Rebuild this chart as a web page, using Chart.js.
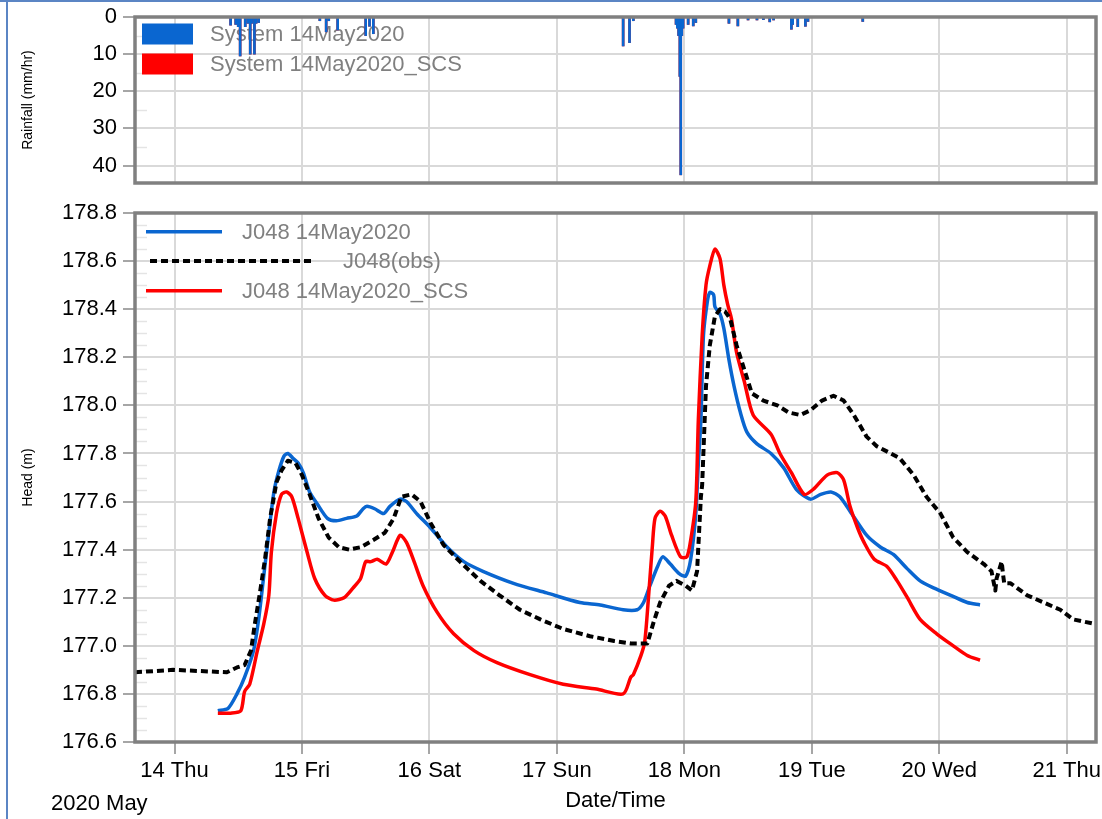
<!DOCTYPE html>
<html>
<head>
<meta charset="utf-8">
<title>J048 head and rainfall</title>
<script src="https://cdn.jsdelivr.net/npm/chart.js@4.4.1/dist/chart.umd.min.js"></script>
<style>
  html, body { margin: 0; padding: 0; background: #fff; }
  #page { position: relative; width: 1102px; height: 819px; overflow: hidden; }
  #rainBox { position: absolute; left: 0; top: 0; width: 1102px; height: 195px; }
  #headBox { position: absolute; left: 0; top: 195px; width: 1102px; height: 624px; }
  .edgeTop { position: absolute; left: 0; top: 0; width: 1102px; height: 2px; background: #5b85c4; }
  .edgeLeft { position: absolute; left: 6px; top: 0; width: 2px; height: 819px; background: #5b85c4; }
</style>
</head>
<body>
<div id="page">
  <div id="rainBox"><canvas id="rainChart" width="1102" height="195"></canvas></div>
  <div id="headBox"><canvas id="headChart" width="1102" height="624"></canvas></div>
  <div class="edgeTop"></div>
  <div class="edgeLeft"></div>
</div>
<script>
// axis ticks (x values are day of May 2020)
const dayTicks = [14, 15, 16, 17, 18, 19, 20, 21];
const dayLabels = ["14 Thu", "15 Fri", "16 Sat", "17 Sun", "18 Mon", "19 Tue", "20 Wed", "21 Thu"];
const headTicks = [176.6, 176.8, 177.0, 177.2, 177.4, 177.6, 177.8, 178.0, 178.2, 178.4, 178.6, 178.8];
const rainTicks = [0, 10, 20, 30, 40];

// rainfall intensity (mm/hr)
const rainDays = [
  14.44, 14.48, 14.50, 14.515, 14.555, 14.575, 14.594, 14.605, 14.627, 14.64, 14.66,
  15.14, 15.19, 15.21, 15.28, 15.50, 15.53, 15.56,
  17.52, 17.57, 17.60,
  17.935, 17.945, 17.955, 17.965, 17.972, 17.98, 17.99, 18.03, 18.07, 18.09,
  18.35, 18.42, 18.50, 18.57, 18.62, 18.67, 18.70,
  18.84, 18.85, 18.89, 18.95, 18.97, 19.40
];
const rainRate = [
  2.2, 2.0, 2.6, 10.5, 2.6, 1.7, 10.0, 1.7, 10.0, 1.7, 1.5,
  1.0, 4.0, 1.0, 3.5, 5.0, 2.5, 4.5,
  7.8, 6.9, 1.0,
  2.0, 3.0, 5.0, 16.0, 42.5, 5.0, 3.0, 2.0, 2.4, 1.5,
  1.7, 2.4, 0.8, 0.8, 0.7, 1.3, 0.8,
  3.3, 2.0, 2.6, 2.5, 1.2, 1.2
];
const rainRateSCS = rainRate;

// J048 14May2020
const simDays = [
  14.34, 14.42, 14.49, 14.55, 14.62, 14.66, 14.70, 14.74, 14.78, 14.82,
  14.86, 14.89, 14.93, 14.97, 15.01, 15.06, 15.12, 15.20, 15.27, 15.35,
  15.43, 15.48, 15.51, 15.57, 15.64, 15.69, 15.77, 15.82, 15.90, 16.01,
  16.14, 16.27, 16.42, 16.66, 16.92, 17.18, 17.34, 17.52, 17.63, 17.68,
  17.73, 17.79, 17.83, 17.89, 17.96, 18.01, 18.05, 18.09, 18.11, 18.13,
  18.15, 18.18, 18.20, 18.23, 18.24, 18.28, 18.31, 18.35, 18.39, 18.44,
  18.49, 18.57, 18.68, 18.78, 18.88, 18.99, 19.07, 19.15, 19.22, 19.30,
  19.43, 19.54, 19.64, 19.75, 19.85, 19.96, 20.09, 20.22, 20.32
];
const simHead = [
  176.73, 176.74, 176.80, 176.87, 176.98, 177.11, 177.29, 177.47, 177.64, 177.73,
  177.79, 177.80, 177.78, 177.76, 177.72, 177.64, 177.59, 177.53, 177.52, 177.53,
  177.54, 177.57, 177.58, 177.57, 177.55, 177.58, 177.61, 177.60, 177.55, 177.49,
  177.41, 177.35, 177.31, 177.26, 177.22, 177.18, 177.17, 177.15, 177.15, 177.18,
  177.25, 177.33, 177.37, 177.34, 177.30, 177.29, 177.36, 177.55, 177.76, 177.94,
  178.29, 178.43, 178.47, 178.46, 178.41, 178.38, 178.32, 178.19, 178.08, 177.97,
  177.89, 177.84, 177.80, 177.74, 177.65, 177.61, 177.63, 177.64, 177.62, 177.56,
  177.46, 177.41, 177.38, 177.32, 177.27, 177.24, 177.21, 177.18, 177.17
];

// J048 14May2020_SCS
const scsDays = [
  14.34, 14.44, 14.52, 14.55, 14.59, 14.65, 14.70, 14.74, 14.76, 14.80,
  14.84, 14.88, 14.92, 14.97, 15.04, 15.10, 15.18, 15.25, 15.33, 15.40,
  15.46, 15.50, 15.54, 15.59, 15.66, 15.71, 15.77, 15.82, 15.88, 15.95,
  16.06, 16.19, 16.35, 16.53, 16.79, 17.05, 17.31, 17.52, 17.58, 17.60,
  17.66, 17.69, 17.72, 17.75, 17.77, 17.81, 17.85, 17.90, 17.97, 18.02,
  18.05, 18.09, 18.11, 18.14, 18.17, 18.20, 18.24, 18.28, 18.31, 18.34,
  18.37, 18.41, 18.47, 18.54, 18.68, 18.75, 18.84, 18.94, 19.01, 19.12,
  19.20, 19.25, 19.30, 19.36, 19.41, 19.49, 19.59, 19.67, 19.75, 19.85,
  19.98, 20.11, 20.22, 20.32
];
const scsHead = [
  176.72, 176.72, 176.73, 176.81, 176.84, 176.98, 177.09, 177.21, 177.39, 177.55,
  177.63, 177.64, 177.62, 177.53, 177.39, 177.28, 177.21, 177.19, 177.20, 177.24,
  177.28, 177.35, 177.35, 177.36, 177.34, 177.39, 177.46, 177.43, 177.35, 177.25,
  177.14, 177.05, 176.98, 176.93, 176.88, 176.84, 176.82, 176.80, 176.87, 176.88,
  176.96, 177.02, 177.21, 177.42, 177.53, 177.56, 177.54, 177.46, 177.37, 177.37,
  177.44, 177.60, 177.94, 178.29, 178.50, 178.58, 178.65, 178.61, 178.50, 178.42,
  178.36, 178.22, 178.10, 177.96, 177.88, 177.80, 177.72, 177.63, 177.65, 177.71,
  177.72, 177.69, 177.58, 177.49, 177.43, 177.36, 177.33, 177.27, 177.20, 177.11,
  177.05, 177.00, 176.96, 176.94
];

// J048(obs)
const obsDays = [
  13.69, 13.99, 14.41, 14.49, 14.55, 14.60, 14.63, 14.67, 14.71, 14.75,
  14.80, 14.84, 14.89, 14.95, 15.00, 15.06, 15.13, 15.21, 15.29, 15.37,
  15.46, 15.56, 15.65, 15.72, 15.78, 15.86, 15.93, 16.01, 16.11, 16.24,
  16.40, 16.55, 16.71, 16.87, 17.05, 17.26, 17.45, 17.58, 17.71, 17.76,
  17.81, 17.88, 17.94, 18.01, 18.06, 18.10, 18.13, 18.14, 18.17, 18.20,
  18.24, 18.28, 18.32, 18.36, 18.41, 18.47, 18.53, 18.62, 18.73, 18.82,
  18.91, 18.99, 19.08, 19.17, 19.25, 19.33, 19.43, 19.51, 19.62, 19.69,
  19.80, 19.90, 20.01, 20.11, 20.22, 20.35, 20.41, 20.44, 20.45, 20.49,
  20.50, 20.51, 20.56, 20.69, 20.82, 20.95, 21.05, 21.23
];
const obsHead = [
  176.89, 176.90, 176.89, 176.91, 176.92, 176.98, 177.09, 177.22, 177.36, 177.53,
  177.68, 177.73, 177.77, 177.76, 177.71, 177.63, 177.53, 177.45, 177.41, 177.40,
  177.41, 177.44, 177.47, 177.53, 177.62, 177.63, 177.60, 177.51, 177.42, 177.35,
  177.27, 177.21, 177.15, 177.11, 177.07, 177.04, 177.02, 177.01, 177.01, 177.10,
  177.18, 177.25, 177.27, 177.25, 177.23, 177.31, 177.62, 177.67, 178.08, 178.25,
  178.37, 178.40, 178.39, 178.36, 178.25, 178.15, 178.05, 178.02, 178.00, 177.97,
  177.96, 177.98, 178.02, 178.04, 178.02, 177.96, 177.87, 177.83, 177.80, 177.78,
  177.71, 177.62, 177.55, 177.45, 177.39, 177.34, 177.31, 177.23, 177.28, 177.35,
  177.30, 177.26, 177.26, 177.21, 177.18, 177.15, 177.11, 177.09
];

const FONT = "'Liberation Sans', Arial, sans-serif";
const BLUE = "#0a66d0";
const RED = "#ff0000";
const GRID = "#d9d9d9";
const TICKMARK = "#a6a6a6";
const LEGEND_TEXT = "#808080";

const pts = (xs, ys) => xs.map((x, i) => ({ x: x, y: ys[i] }));

function dayAxis(withLabels, height) {
  return {
    type: "linear",
    min: 13.69,
    max: 21.23,
    offset: false,
    afterBuildTicks: (s) => { s.ticks = dayTicks.map((v) => ({ value: v })); },
    afterFit: (s) => { s.paddingLeft = 0; s.paddingRight = 0; s.height = height; },
    grid: { color: GRID, lineWidth: 2, offset: false, drawTicks: withLabels, tickLength: 12, tickColor: TICKMARK, tickWidth: 2 },
    border: { display: false },
    ticks: {
      display: withLabels, autoSkip: false, maxRotation: 0, padding: 4,
      color: "#000", font: { family: FONT, size: 22 },
      callback: (v, i) => dayLabels[i]
    },
    title: {
      display: withLabels, text: "Date/Time", color: "#000",
      font: { family: FONT, size: 22 }, padding: { top: 0, bottom: 5 }
    }
  };
}

function valueAxis(cfg) {
  return {
    type: "linear",
    min: cfg.min,
    max: cfg.max,
    reverse: !!cfg.reverse,
    afterBuildTicks: (s) => { s.ticks = cfg.ticks.map((v) => ({ value: v })); },
    afterFit: (s) => { s.width = 135; s.paddingTop = 0; s.paddingBottom = 0; },
    grid: { color: GRID, lineWidth: 2, tickLength: 12, tickColor: TICKMARK, tickWidth: 2 },
    border: { display: false },
    ticks: { color: "#000", font: { family: FONT, size: 22 }, padding: 6, callback: cfg.format },
    title: {
      display: true, text: cfg.title, color: "#000",
      font: { family: FONT, size: 14 }, padding: { top: 20, bottom: 0 }
    }
  };
}

// frame, faint minor ticks and the hand-laid legend
const panelPlugin = {
  id: "panel",
  beforeDatasetsDraw(chart, args, opts) {
    const { ctx, chartArea: a } = chart;
    const y = chart.scales.y;
    ctx.save();
    ctx.strokeStyle = "#e4e4e4";
    ctx.lineWidth = 1.5;
    (opts.minor || []).forEach((v) => {
      const py = Math.round(y.getPixelForValue(v)) + 0.5;
      ctx.beginPath();
      ctx.moveTo(a.left, py);
      ctx.lineTo(a.left + 12, py);
      ctx.stroke();
    });
    ctx.restore();
    if (opts.legendUnder) drawLegend(ctx, opts.legend);
  },
  afterDatasetsDraw(chart, args, opts) {
    const { ctx, chartArea: a } = chart;
    ctx.save();
    ctx.strokeStyle = "#808080";
    ctx.lineWidth = 3.5;
    ctx.strokeRect(a.left, a.top, a.right - a.left, a.bottom - a.top);
    ctx.restore();
    if (!opts.legendUnder) drawLegend(ctx, opts.legend);
    (opts.notes || []).forEach((n) => {
      ctx.save();
      ctx.font = "22px " + FONT;
      ctx.fillStyle = "#000";
      ctx.textBaseline = "alphabetic";
      ctx.fillText(n.text, n.x, n.y);
      ctx.restore();
    });
  }
};

function drawLegend(ctx, items) {
  (items || []).forEach((it) => {
    ctx.save();
    if (it.box) {
      ctx.fillStyle = it.color;
      ctx.fillRect(it.x1, it.y - 10.5, it.x2 - it.x1, 21);
    } else {
      ctx.strokeStyle = it.color;
      ctx.lineWidth = it.width;
      ctx.setLineDash(it.dash || []);
      ctx.beginPath();
      ctx.moveTo(it.x1, it.y);
      ctx.lineTo(it.x2, it.y);
      ctx.stroke();
    }
    ctx.setLineDash([]);
    ctx.font = "22px " + FONT;
    ctx.fillStyle = LEGEND_TEXT;
    ctx.textBaseline = "middle";
    ctx.fillText(it.label, it.tx, it.y + 1);
    ctx.restore();
  });
}

const minorRain = [5, 15, 25, 35];
const minorHead = [];
for (let i = 0; i < headTicks.length - 1; i++) {
  for (let k = 1; k < 4; k++) minorHead.push(headTicks[i] + k * 0.05);
}

new Chart(document.getElementById("rainChart"), {
  type: "bar",
  data: {
    datasets: [
      { label: "System 14May2020", data: pts(rainDays, rainRate), backgroundColor: BLUE,
        barThickness: 2, grouped: false },
      { label: "System 14May2020_SCS", data: pts(rainDays, rainRateSCS), backgroundColor: RED,
        barThickness: 2, grouped: false }
    ]
  },
  options: {
    responsive: false,
    animation: false,
    layout: { padding: { left: 0, right: 6, top: 17, bottom: 0 } },
    plugins: {
      legend: { display: false },
      tooltip: { enabled: false },
      panel: {
        minor: minorRain,
        legendUnder: true,
        legend: [
          { box: true, color: BLUE, x1: 142, x2: 193, y: 34, label: "System 14May2020", tx: 210 },
          { box: true, color: RED, x1: 142, x2: 193, y: 64, label: "System 14May2020_SCS", tx: 210 }
        ]
      }
    },
    scales: {
      x: dayAxis(false, 12),
      y: valueAxis({ min: 0, max: 44.7, reverse: true, ticks: rainTicks, title: "Rainfall (mm/hr)",
        format: (v) => String(v) })
    }
  },
  plugins: [panelPlugin]
});

new Chart(document.getElementById("headChart"), {
  type: "line",
  data: {
    datasets: [
      { label: "J048(obs)", data: pts(obsDays, obsHead), borderColor: "#000", borderWidth: 4,
        borderDash: [7, 4], borderJoinStyle: "round", pointRadius: 0, fill: false, tension: 0 },
      { label: "J048 14May2020_SCS", data: pts(scsDays, scsHead), borderColor: RED, borderWidth: 3.5,
        borderJoinStyle: "round", pointRadius: 0, fill: false, tension: 0.25 },
      { label: "J048 14May2020", data: pts(simDays, simHead), borderColor: BLUE, borderWidth: 3.5,
        borderJoinStyle: "round", pointRadius: 0, fill: false, tension: 0.25 }
    ]
  },
  options: {
    responsive: false,
    animation: false,
    layout: { padding: { left: 0, right: 6, top: 18, bottom: 0 } },
    plugins: {
      legend: { display: false },
      tooltip: { enabled: false },
      panel: {
        minor: minorHead,
        legendUnder: false,
        legend: [
          { color: BLUE, width: 3.5, x1: 146, x2: 222, y: 36.7, label: "J048 14May2020", tx: 242 },
          { color: "#000", width: 4, dash: [7, 4], x1: 150, x2: 315, y: 66, label: "J048(obs)", tx: 343 },
          { color: RED, width: 3.5, x1: 146, x2: 222, y: 95.7, label: "J048 14May2020_SCS", tx: 242 }
        ],
        notes: [{ text: "2020 May", x: 51, y: 615 }]
      }
    },
    scales: {
      x: dayAxis(true, 77),
      y: valueAxis({ min: 176.6, max: 178.8, ticks: headTicks, title: "Head (m)",
        format: (v) => v.toFixed(1) })
    }
  },
  plugins: [panelPlugin]
});
</script>
</body>
</html>
